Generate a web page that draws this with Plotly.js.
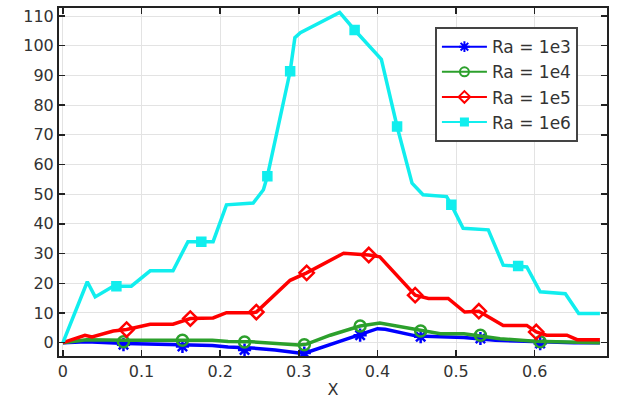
<!DOCTYPE html>
<html><head><meta charset="utf-8">
<script src="https://cdn.plot.ly/plotly-3.0.1.min.js"></script>
<style>html,body{margin:0;padding:0;background:#fff}#chart{width:621px;height:401px}</style>
</head><body><div id="chart"></div>
<script>
const seriesNames = ["Ra = 1e3", "Ra = 1e4", "Ra = 1e5", "Ra = 1e6"];
const xTickVals = [0, 0.1, 0.2, 0.3, 0.4, 0.5, 0.6];
const xTickText = ["0", "0.1", "0.2", "0.3", "0.4", "0.5", "0.6"];
const yTickVals = [0, 10, 20, 30, 40, 50, 60, 70, 80, 90, 100, 110];

// Ra = 1e3 (blue)
const ra3X = [0, 0.03, 0.08, 0.11, 0.15, 0.19, 0.21, 0.24, 0.27, 0.30, 0.31, 0.34, 0.37, 0.40, 0.41, 0.45, 0.48, 0.51, 0.55, 0.60, 0.65, 0.683];
const ra3Y = [0, 0.3, -0.3, -0.5, -1.0, -1.0, -1.5, -1.8, -2.5, -3.5, -3.3, -0.5, 2.0, 4.7, 4.5, 2.2, 1.9, 1.7, 0.8, 0.3, 0, 0];
const ra3MarkX = [0.077, 0.152, 0.231, 0.307, 0.378, 0.455, 0.531, 0.607];
const ra3MarkY = [-0.7, -1.3, -2.5, -3.5, 2.5, 2.0, 1.4, -0.3];

// Ra = 1e4 (green)
const ra4X = [0, 0.03, 0.08, 0.11, 0.15, 0.19, 0.21, 0.24, 0.30, 0.31, 0.34, 0.378, 0.403, 0.42, 0.455, 0.48, 0.51, 0.556, 0.60, 0.65, 0.683];
const ra4Y = [0, 1.0, 0.8, 0.8, 0.8, 0.8, 0.4, 0.3, -0.8, -0.5, 2.5, 5.6, 6.6, 5.8, 3.9, 3.0, 3.0, 1.3, 0.5, 0.2, 0];
const ra4MarkX = [0.077, 0.152, 0.231, 0.307, 0.378, 0.455, 0.531, 0.607];
const ra4MarkY = [0.3, 0.8, 0.2, -0.7, 5.6, 3.9, 2.5, 0.3];

// Ra = 1e5 (red)
const ra5X = [0, 0.028, 0.037, 0.064, 0.081, 0.111, 0.140, 0.162, 0.191, 0.208, 0.242, 0.246, 0.289, 0.310, 0.357, 0.389, 0.403, 0.448, 0.465, 0.490, 0.511, 0.529, 0.560, 0.590, 0.602, 0.615, 0.641, 0.654, 0.683];
const ra5Y = [0, 2.5, 1.9, 3.9, 4.4, 6.2, 6.2, 8.1, 8.3, 10.1, 10.1, 10.3, 21.0, 23.5, 30.1, 29.5, 28.9, 16.0, 14.9, 14.9, 10.3, 10.6, 5.8, 5.8, 3.6, 2.5, 2.5, 1.0, 1.0];
const ra5MarkX = [0.081, 0.162, 0.246, 0.310, 0.389, 0.448, 0.529, 0.602];
const ra5MarkY = [4.4, 8.1, 10.3, 23.5, 29.5, 16.0, 10.6, 3.6];

// Ra = 1e6 (cyan)
const ra6X = [0, 0.031, 0.041, 0.064, 0.087, 0.111, 0.140, 0.159, 0.191, 0.208, 0.242, 0.251, 0.255, 0.260, 0.289, 0.295, 0.302, 0.352, 0.371, 0.405, 0.425, 0.444, 0.458, 0.488, 0.494, 0.509, 0.541, 0.560, 0.579, 0.590, 0.607, 0.639, 0.656, 0.683];
const ra6Y = [0, 20.5, 15.4, 19.0, 19.0, 24.2, 24.2, 34.0, 34.0, 46.4, 47.0, 50.3, 51.5, 56.0, 91.4, 102.7, 104.4, 111.2, 105.3, 95.4, 72.8, 53.7, 49.8, 49.2, 46.4, 38.5, 38.0, 26.1, 25.8, 25.5, 17.1, 16.5, 9.8, 9.8];
const ra6MarkX = [0.068, 0.176, 0.260, 0.289, 0.371, 0.425, 0.494, 0.579];
const ra6MarkY = [19.0, 34.0, 56.0, 91.4, 105.3, 72.8, 46.4, 25.8];

const colors = ["#0000ff", "#2ca02c", "#ff0000", "#11eeee"];
const symbols = ["asterisk-open", "circle-open", "diamond-open", "square"];
const msizes = [11, 11, 11, 8];
const lineX = [ra3X, ra4X, ra5X, ra6X];
const lineY = [ra3Y, ra4Y, ra5Y, ra6Y];
const markX = [ra3MarkX, ra4MarkX, ra5MarkX, ra6MarkX];
const markY = [ra3MarkY, ra4MarkY, ra5MarkY, ra6MarkY];

const traces = [];
for (let i = 0; i < 4; i++) {
  traces.push({x: lineX[i], y: lineY[i], mode: "lines", showlegend: false, hoverinfo: "skip",
    line: {color: colors[i], width: 3.5}});
  traces.push({x: markX[i], y: markY[i], mode: "markers", showlegend: false,
    marker: {symbol: symbols[i], size: msizes[i], color: colors[i], line: {color: colors[i], width: 2.5}}});
}
for (let i = 0; i < 4; i++) {
  traces.push({x: [null], y: [null], mode: "lines+markers", name: seriesNames[i], legendgroup: "g" + i,
    line: {color: colors[i], width: 2},
    marker: {symbol: symbols[i], size: i === 3 ? 7 : 9, color: colors[i], line: {color: colors[i], width: 2}}});
}

const axisCommon = {
  showline: true, linecolor: "#222", linewidth: 2, mirror: "allticks",
  ticks: "inside", ticklen: 6, tickwidth: 1.5, tickcolor: "#222",
  showgrid: true, gridcolor: "#e3e3e3", gridwidth: 1, zeroline: false,
  tickfont: {family: "DejaVu Sans", size: 16, color: "#333"}
};

const layout = {
  width: 621, height: 401,
  margin: {l: 59, r: 14, t: 8, b: 45},
  paper_bgcolor: "#fff", plot_bgcolor: "#fff",
  font: {family: "DejaVu Sans", color: "#333"},
  xaxis: Object.assign({}, axisCommon, {range: [-0.005, 0.692], tickvals: xTickVals, ticktext: xTickText,
    title: {text: "X", font: {family: "DejaVu Sans", size: 16, color: "#333"}, standoff: 4}}),
  yaxis: Object.assign({}, axisCommon, {range: [-4.5, 112.7], tickvals: yTickVals}),
  legend: {x: 0.686, y: 0.945, xanchor: "left", yanchor: "top", bgcolor: "#fff",
    bordercolor: "#444", borderwidth: 2, itemwidth: 45, traceorder: "grouped", tracegroupgap: 0,
    font: {family: "DejaVu Sans", size: 17, color: "#333"}}
};

Plotly.newPlot("chart", traces, layout, {displayModeBar: false, staticPlot: true});
</script></body></html>
